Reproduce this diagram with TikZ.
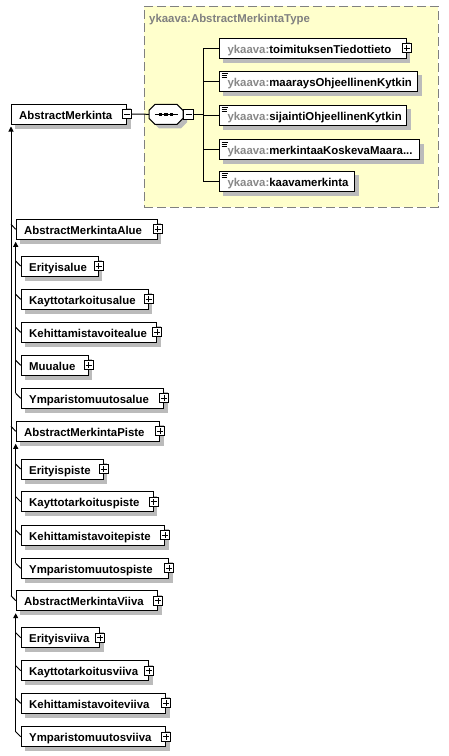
\documentclass[tikz,border=0pt]{standalone}
\usepackage{fontspec}
\setmainfont{Liberation Sans}
\usetikzlibrary{arrows.meta,calc}
\definecolor{typefill}{HTML}{FFFFCC}
\definecolor{prefixgray}{HTML}{888888}
\definecolor{shadowgray}{HTML}{BBBBBB}
\newcommand\lblfont{\fontsize{11.4}{13}\selectfont\bfseries}
\newcommand\pfx{\textcolor{prefixgray}{ykaava:}}
\tikzset{
  elem/.style={draw=black, fill=white, line width=1pt, minimum height=20pt,
    inner xsep=8pt, inner ysep=0pt, anchor=west, align=left, font=\lblfont,
    text=black, text height=11.5pt, text depth=1.5pt},
  iconbox/.style={draw=black, fill=white, line width=0.8pt, minimum size=9pt, inner sep=0pt},
  plusicon/.style={iconbox, path picture={
    \draw[line width=0.8pt] ($(path picture bounding box.center)+(-3pt,0pt)$) -- ($(path picture bounding box.center)+(3pt,0pt)$);
    \draw[line width=0.8pt] ($(path picture bounding box.center)+(0pt,-3pt)$) -- ($(path picture bounding box.center)+(0pt,3pt)$);}},
  minusicon/.style={iconbox, path picture={
    \draw[line width=0.8pt] ($(path picture bounding box.center)+(-3pt,0pt)$) -- ($(path picture bounding box.center)+(3pt,0pt)$);}},
  simpleicon/.style={path picture={
    \draw[line width=0.8pt] ($(path picture bounding box.north west)+(2pt,-2.5pt)$) -- +(6pt,0pt);
    \draw[line width=0.8pt] ($(path picture bounding box.north west)+(2pt,-4.5pt)$) -- +(5pt,0pt);
    \draw[line width=0.8pt] ($(path picture bounding box.north west)+(2pt,-6.5pt)$) -- +(5pt,0pt);}},
  conn/.style={draw=black, line width=1pt},
  inh/.style={draw=black, line width=1pt, -{Triangle[width=5pt,length=5pt]}, shorten >=2pt},
  typebox/.style={draw=black!50, fill=typefill, line width=1pt, dash pattern=on 9pt off 4pt,
    minimum width=294pt, minimum height=201pt, inner sep=0pt, anchor=north west},
  seqbox/.style={minimum width=34pt, minimum height=20pt, inner sep=0pt},
  shadowfill/.style={fill=shadowgray}
}
\newcommand\elembox[6][]{%
  \pgfmathsetmacro\tw{#4-#3-16}%
  \fill[shadowfill] ($(#3,#5)+(4,-6)$) rectangle ($(#4,#5)+(4.5,14.5)$);
  \node[elem,#1,text width=\tw pt] (#2) at (#3,#5) {#6};}
\begin{document}
\begin{tikzpicture}[x=1pt,y=-1pt]
\useasboundingbox (0,0) rectangle (448,756);
\fill[white] (0,0) rectangle (448,756);
% type box
\node[typebox] (tb) at (143.5,5.5) {};
\node[anchor=base west, font=\lblfont, text=black!50, inner sep=0pt] (tbtitle) at (149,22.5) {ykaava:AbstractMerkintaType};
% root element
\elembox{am}{10.7}{126}{114}{AbstractMerkinta}
\node[minusicon] (amm) at (am.east) {};
% sequence
\node[seqbox] (seq) at (166,114.3) {};
\fill[shadowfill] ($(seq.center)+(4,4)$) +(-17,-4) -- +(-11,-10) -- +(11,-10) -- +(17,-4) -- +(17,4) -- +(11,10) -- +(-11,10) -- +(-17,4) -- cycle;
\filldraw[fill=white, line width=1pt] (seq.center) +(-17,-4) -- +(-11,-10) -- +(11,-10) -- +(17,-4) -- +(17,4) -- +(11,10) -- +(-11,10) -- +(-17,4) -- cycle;
\draw[line width=1pt] ($(seq.center)+(-11,0)$) -- ($(seq.center)+(12,0)$);
\foreach \dx in {-5.5,0,5.5}{\fill ($(seq.center)+(\dx,0)+(-1.6,-1.6)$) rectangle ($(seq.center)+(\dx,0)+(1.6,1.6)$);}
\node[minusicon, minimum size=10pt, anchor=west] (seqm) at (seq.east) {};
\coordinate (fan) at (203.3,114.3);
% type elements
\elembox{toim}{219}{405.7}{48.3}{\pfx toimituksenTiedottieto}
\node[plusicon] (toimp) at (toim.east) {};
\elembox[simpleicon]{maar}{219}{417}{81.3}{\pfx maaraysOhjeellinenKytkin}
\elembox[simpleicon]{sij}{219}{406}{115}{\pfx sijaintiOhjeellinenKytkin}
\elembox[simpleicon]{merk}{219}{419}{149.5}{\pfx merkintaaKoskevaMaara...}
\elembox[simpleicon]{kaava}{219}{354}{181.3}{\pfx kaavamerkinta}
% connectors of the content model
\draw[conn] (amm.east) -- (seq.west);
\draw[conn] (seqm.east) -- (fan);
\draw[conn] (fan |- toim.west) -- (fan |- kaava.west);
\foreach \n in {toim,maar,sij,merk,kaava}{\draw[conn] (fan |- \n.west) -- (\n.west);}
% derived types: level 1
\elembox{alue}{15.7}{156.7}{229.3}{AbstractMerkintaAlue}
\node[plusicon] (aluep) at (alue.east) {};
\elembox{piste}{15.7}{159.3}{431.3}{AbstractMerkintaPiste}
\node[plusicon] (pistep) at (piste.east) {};
\elembox{viiva}{15.7}{157.3}{600.7}{AbstractMerkintaViiva}
\node[plusicon] (viivap) at (viiva.east) {};
% level 2 under Alue
\elembox{eralue}{20.7}{97.7}{266}{Erityisalue}
\node[plusicon] (eraluep) at (eralue.east) {};
\elembox{kaalue}{20.7}{147.7}{299.3}{Kayttotarkoitusalue}
\node[plusicon] (kaaluep) at (kaalue.east) {};
\elembox{kealue}{20.7}{156}{332.3}{Kehittamistavoitealue}
\node[plusicon] (kealuep) at (kealue.east) {};
\elembox{muu}{20.7}{87.7}{365.3}{Muualue}
\node[plusicon] (muup) at (muu.east) {};
\elembox{ymalue}{20.7}{163}{398.3}{Ymparistomuutosalue}
\node[plusicon] (ymaluep) at (ymalue.east) {};
% level 2 under Piste
\elembox{erpiste}{20.7}{102.7}{469}{Erityispiste}
\node[plusicon] (erpistep) at (erpiste.east) {};
\elembox{kapiste}{20.7}{152.7}{501.7}{Kayttotarkoituspiste}
\node[plusicon] (kapistep) at (kapiste.east) {};
\elembox{kepiste}{20.7}{164.3}{535}{Kehittamistavoitepiste}
\node[plusicon] (kepistep) at (kepiste.east) {};
\elembox{ympiste}{20.7}{168.3}{568.3}{Ymparistomuutospiste}
\node[plusicon] (ympistep) at (ympiste.east) {};
% level 2 under Viiva
\elembox{erviiva}{20.7}{99}{637.7}{Erityisviiva}
\node[plusicon] (erviivap) at (erviiva.east) {};
\elembox{kaviiva}{20.7}{148.3}{670.7}{Kayttotarkoitusviiva}
\node[plusicon] (kaviivap) at (kaviiva.east) {};
\elembox{keviiva}{20.7}{165}{703.3}{Kehittamistavoiteviiva}
\node[plusicon] (keviivap) at (keviiva.east) {};
\elembox{ymviiva}{20.7}{165}{736.7}{Ymparistomuutosviiva}
\node[plusicon] (ymviivap) at (ymviiva.east) {};
% inheritance lines
\draw[inh] ($(am.south west |- viiva.west)+(0.3,-5)$) -- ($(am.south west)+(0.3,0)$);
\foreach \n in {alue,piste,viiva}{\draw[conn] ($(am.south west |- \n.west)+(0.3,-5)$) -- (\n.west);}
\draw[inh] ($(alue.south west |- ymalue.west)+(0,-5)$) -- (alue.south west);
\foreach \n in {eralue,kaalue,kealue,muu,ymalue}{\draw[conn] ($(alue.south west |- \n.west)+(0,-5)$) -- (\n.west);}
\draw[inh] ($(piste.south west |- ympiste.west)+(0,-5)$) -- (piste.south west);
\foreach \n in {erpiste,kapiste,kepiste,ympiste}{\draw[conn] ($(piste.south west |- \n.west)+(0,-5)$) -- (\n.west);}
\draw[inh] ($(viiva.south west |- ymviiva.west)+(0,-5)$) -- (viiva.south west);
\foreach \n in {erviiva,kaviiva,keviiva,ymviiva}{\draw[conn] ($(viiva.south west |- \n.west)+(0,-5)$) -- (\n.west);}
\end{tikzpicture}
\end{document}
